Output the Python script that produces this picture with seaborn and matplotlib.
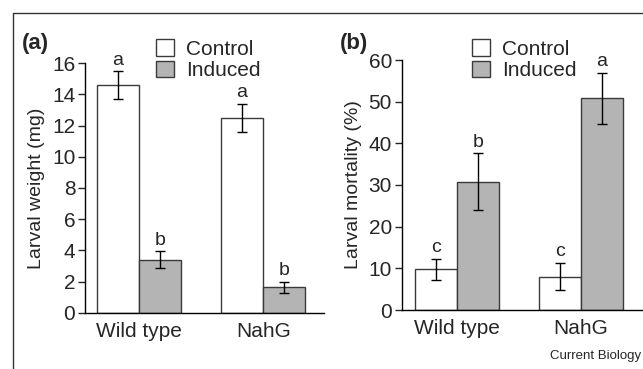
import pandas as pd
import seaborn as sns
import matplotlib
import matplotlib.pyplot as plt
from matplotlib.lines import Line2D

sns.set_style('white')
matplotlib.rcParams['font.family'] = ['Liberation Sans', 'DejaVu Sans']

genotypes = ['Wild type', 'NahG']
treatments = ['Control', 'Induced']

# panel a: larval weight (mg)
weight_mean = {'Control': [14.6, 12.5], 'Induced': [3.4, 1.63]}
weight_err = {'Control': [0.9, 0.9], 'Induced': [0.55, 0.35]}
weight_letters = {'Control': ['a', 'a'], 'Induced': ['b', 'b']}

# panel b: larval mortality (%)
mort_mean = {'Control': [9.8, 8.0], 'Induced': [30.75, 50.8]}
mort_err = {'Control': [2.5, 3.3], 'Induced': [6.85, 6.1]}
mort_letters = {'Control': ['c', 'c'], 'Induced': ['b', 'a']}

palette = {'Control': 'white', 'Induced': '#b4b4b4'}
fs = 15


def long_df(means):
    rows = []
    for t in treatments:
        for g, v in zip(genotypes, means[t]):
            rows.append({'Genotype': g, 'Treatment': t, 'value': v})
    return pd.DataFrame(rows)


def draw_panel(ax, means, errs, letters, ylim, yticks, ylabel, xlim, letter_pad):
    df = long_df(means)
    sns.barplot(data=df, x='Genotype', y='value', hue='Treatment',
                hue_order=treatments, palette=palette, width=0.68,
                errorbar=None, edgecolor='#3a3a3a', linewidth=1.0, ax=ax)
    for cont, t in zip(ax.containers, treatments):
        for bar, v, e, lab in zip(cont, means[t], errs[t], letters[t]):
            xc = bar.get_x() + bar.get_width() / 2
            ax.errorbar(xc, v, yerr=e, fmt='none', ecolor='black',
                        elinewidth=1.0, capsize=3.5, capthick=1.0)
            ax.text(xc, v + e + letter_pad, lab, ha='center', va='bottom',
                    fontsize=14)
    ax.set_ylim(*ylim)
    ax.set_xlim(*xlim)
    ax.set_yticks(yticks)
    ax.set_xlabel('')
    ax.set_ylabel(ylabel, fontsize=14, labelpad=5)
    sns.despine(ax=ax)
    for s in ['left', 'bottom']:
        ax.spines[s].set_color('black')
        ax.spines[s].set_linewidth(1.0)
    ax.tick_params(axis='y', left=True, length=5, width=1.0, labelsize=fs, pad=2)
    ax.tick_params(axis='x', bottom=False, labelsize=fs, pad=3)
    h, l = ax.get_legend_handles_labels()
    ax.legend(h, l, frameon=False, fontsize=fs, handlelength=0.85,
              handleheight=0.85, handletextpad=0.6, labelspacing=0.1,
              borderpad=0, borderaxespad=0, loc='upper left')
    return ax


fig = plt.figure(figsize=(6.43, 3.69), dpi=100)
ax1 = fig.add_axes([85 / 643, 1 - 312.7 / 369, 239 / 643, 249.4 / 369])
ax2 = fig.add_axes([401.7 / 643, 1 - 310 / 369, 241.3 / 643, 250 / 369])

draw_panel(ax1, weight_mean, weight_err, weight_letters, (0, 16),
           range(0, 17, 2), 'Larval weight (mg)', (-0.435, 1.49), 0.15)
draw_panel(ax2, mort_mean, mort_err, mort_letters, (0, 60),
           range(0, 61, 10), 'Larval mortality (%)', (-0.444, 1.5), 0.6)

ax1.get_legend().set_bbox_to_anchor((156 / 643, 1 - 39 / 369), transform=fig.transFigure)
ax2.get_legend().set_bbox_to_anchor((472 / 643, 1 - 39 / 369), transform=fig.transFigure)

fig.text(22 / 643, 1 - 44 / 369, '(a)', fontsize=16, weight='bold', va='center')
fig.text(340 / 643, 1 - 44 / 369, '(b)', fontsize=16, weight='bold', va='center')
fig.text(641 / 643, 1 - 356 / 369, 'Current Biology', fontsize=9.5, ha='right', va='center')

# outer frame (cropped at right/bottom)
fig.add_artist(Line2D([12.5 / 643, 1], [1 - 12.5 / 369, 1 - 12.5 / 369],
                      transform=fig.transFigure, color='#333333', lw=1))
fig.add_artist(Line2D([12.5 / 643, 12.5 / 643], [0, 1 - 12.5 / 369],
                      transform=fig.transFigure, color='#333333', lw=1))

fig.savefig('out.png', dpi=100)
